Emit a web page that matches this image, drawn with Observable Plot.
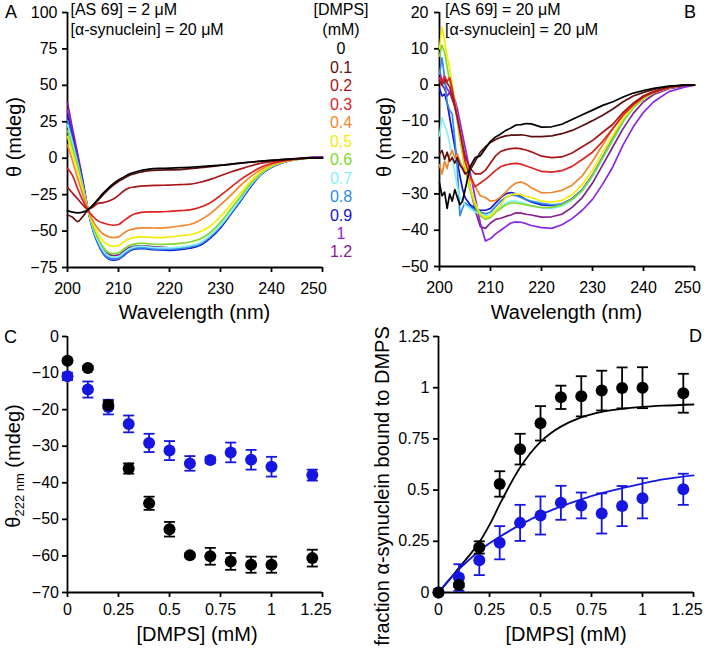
<!DOCTYPE html>
<html>
<head>
<meta charset="utf-8">
<script src="https://cdn.jsdelivr.net/npm/d3@7"></script>
<script src="https://cdn.jsdelivr.net/npm/@observablehq/plot@0.6"></script>
<style>
html, body { margin: 0; padding: 0; background: #fff; }
#chart { position: relative; width: 707px; height: 651px; overflow: hidden; background: #fff;
  font-family: "Liberation Sans", Arial, Helvetica, sans-serif; color: #000; }
#chart svg { position: absolute; left: 0; top: 0; overflow: visible; }
.t { position: absolute; white-space: nowrap; line-height: 1; }
</style>
</head>
<body>
<div id="chart"></div>
<script>
// ---------------- DATA ----------------
const dmpsLabels = ["0","0.1","0.2","0.3","0.4","0.5","0.6","0.7","0.8","0.9","1","1.2"];
const lineColors = ["#000000","#5e1111","#a8161a","#dc2424","#f0872e","#f3ec06","#80d82c","#86f0f8","#2f8ae8","#1414d2","#8c26e2","#84208c"];

// Panel A: [AS 69] = 2 µM
const wavelengthA = [200,201,202,203,204,205,206,207,208,209,210,211,212,213,214,215,216,218,220,222,224,226,228,230,232,234,236,238,240,242,245,248,250];
const thetaA_0   = [-36,-37,-37.5,-37,-35.5,-32,-28,-24,-20.5,-17.5,-15,-13,-11,-9.8,-8.8,-8,-7.5,-7,-6.8,-6.5,-6.2,-5.8,-5.3,-4.8,-4,-3.3,-2.6,-2,-1.5,-1,-0.3,0.2,0.3];
const thetaA_0_1 = [-39,-40.5,-43.5,-40,-35.5,-32.5,-29,-25,-21.5,-18.5,-16,-14,-12,-10.8,-9.8,-9,-8.6,-8.2,-8,-7.8,-7.2,-6.5,-5.8,-5,-4.2,-3.4,-2.7,-2,-1.5,-1,-0.3,0.2,0.3];
const thetaA_0_2 = [-20,-24,-28,-32,-35,-33.5,-31,-30.5,-29.5,-28,-25.5,-22.5,-20.5,-19.8,-19.3,-19,-18.8,-18.6,-18.4,-18.1,-17.8,-16.5,-14.5,-12,-9.5,-7.3,-5.2,-3.4,-2.3,-1.4,-0.4,0.2,0.3];
const thetaA_0_3 = [-7,-12,-21,-29,-35.5,-40,-43,-44.5,-45.5,-46,-45.5,-43,-40.5,-38.5,-37.5,-37,-36.8,-36.8,-36.5,-36,-35.5,-33.7,-30.5,-25.5,-20,-14.5,-10,-6,-3.6,-2,-0.5,0.2,0.3];
const thetaA_0_4 = [9,-2,-14,-25,-35,-43,-48.5,-52,-53.8,-54.5,-54,-51.5,-49.5,-48.5,-48,-47.8,-47.8,-48,-47.5,-46.5,-45.5,-42.5,-38,-32,-25.5,-18.5,-12.5,-7.5,-4.3,-2.4,-0.6,0.2,0.3];
const thetaA_0_5 = [15,3,-9,-22,-35,-45,-52,-57,-59.5,-60.5,-60,-57.5,-55.5,-54.5,-54,-54,-54.2,-54.5,-54,-53.2,-52.5,-50.5,-46.5,-40,-32,-23.5,-15.5,-9,-5,-2.7,-0.7,0.2,0.3];
const thetaA_0_6 = [19,7,-6,-20,-35,-47,-55,-61,-64.5,-65.5,-65,-62.5,-60,-59,-58.5,-58.5,-58.8,-59.2,-59,-58.5,-57.5,-55.5,-51,-44,-35,-26,-17,-10,-5.5,-2.9,-0.8,0.2,0.3];
const thetaA_0_7 = [23,10,-4,-19,-35,-48,-57,-63.5,-67,-68,-67.5,-65,-62.5,-61,-60.5,-60.5,-61,-61.5,-61.5,-61,-60,-58,-53,-46,-37,-27.5,-18,-10.5,-5.8,-3,-0.8,0.2,0.3];
const thetaA_0_8 = [26,12,-2,-18,-35,-49,-58.5,-65,-68.5,-69.5,-69,-66.5,-63.5,-62,-61.5,-61.5,-62,-62.5,-62.5,-62,-61,-59,-54,-47,-38,-28.5,-18.5,-10.8,-6,-3.1,-0.8,0.2,0.3];
const thetaA_0_9 = [29,14,-1,-17,-35,-49.5,-59,-65.5,-69,-70,-69.5,-67,-64,-62.5,-62,-62,-62.5,-63,-63.2,-62.8,-61.8,-59.8,-54.8,-47.8,-38.5,-29,-19,-11,-6.2,-3.2,-0.8,0.2,0.3];
const thetaA_1   = [33,17,1,-16,-35,-49,-58,-64.5,-68,-69,-68.5,-66,-63,-61.5,-61,-61,-61.5,-62,-62.5,-62.2,-61.2,-59.2,-54.3,-47.3,-38.2,-28.8,-19,-11,-6.2,-3.2,-0.7,0.4,0.6];
const thetaA_1_2 = [38,20,3,-15,-35,-48,-57,-63,-66,-66.8,-66.5,-64,-61.5,-60.5,-60.2,-60.2,-60.5,-61,-61.5,-61.5,-60.8,-59,-54,-47,-38,-28.5,-19,-11,-6,-3,-0.5,0.8,1];

// Panel B: [AS 69] = 20 µM
const wavelengthB = [200,200.5,201,201.5,202,202.5,203,203.5,204,204.5,205,206,207,208,209,210,211,212,213,214,215,216,217,218,220,222,224,226,228,230,232,234,236,238,240,242,245,248,250];
const thetaB_0   = [-27,-30.5,-29.5,-34,-30,-32,-28.8,-31,-33,-32,-29,-22.5,-20,-19.5,-17.5,-15.5,-14.3,-13.5,-12.5,-11.8,-11,-10.9,-10.6,-10.7,-11.6,-11.5,-10.8,-9.5,-8.2,-6.9,-5.6,-4.6,-3.3,-2.2,-1.5,-0.9,-0.3,0,0];
const thetaB_0_1 = [-19,-18,-20.5,-18.5,-21,-20,-21.5,-20,-22,-23,-24.5,-23.5,-21,-18.5,-17,-15.8,-15,-14.4,-14,-13.8,-13.8,-13.7,-13.9,-14.2,-14.2,-14,-13.4,-12.5,-11.2,-9.8,-8.3,-6.6,-4.6,-3,-2,-1.2,-0.4,0,0];
const thetaB_0_2 = [1,0,1.5,0.5,-0.5,-3,-6,-9,-12.5,-16,-19.5,-23,-24.5,-24.5,-23.5,-21.5,-19.5,-18.3,-17.8,-17.5,-17.4,-17.6,-17.9,-18.4,-19.6,-20,-19.8,-18.7,-17,-15.3,-13,-10.8,-7.5,-5,-3,-1.8,-0.6,0,0];
const thetaB_0_3 = [2,1,2.5,1,2,-1,-5,-9,-13,-17,-21,-25,-28,-27,-26,-24.8,-23.5,-22.5,-22,-21.7,-21.6,-21.8,-22.3,-22.8,-23.8,-24,-23.6,-22.4,-20.5,-18.5,-15.5,-12,-8.3,-5.5,-3.3,-2,-0.7,0,0];
const thetaB_0_4 = [-22,-24.5,-21,-23,-19.5,-18,-20,-19,-21,-22.5,-24,-26,-28,-30.5,-31,-32,-31.8,-30.8,-29.5,-28,-27,-26.7,-27.3,-28.3,-29.7,-29.6,-29,-27.6,-25,-21,-16.5,-12,-8,-5,-3,-1.7,-0.6,0,0];
const thetaB_0_5 = [10,16,12,8,4.5,0,-4.5,-9,-14,-18,-22,-28,-32.5,-35.5,-36.5,-36,-34.5,-33,-31,-30.2,-30,-30.2,-30.7,-31,-32,-32.3,-31.8,-30.2,-27.5,-23.5,-18.5,-13.8,-9.3,-5.8,-3.4,-2,-0.7,0,0];
const thetaB_0_6 = [8,11,9,5,1,-2,-6,-10,-15,-19,-23,-29,-33.5,-36,-37,-36.5,-35,-34,-33,-32.5,-32.5,-32.7,-33,-33.3,-33.8,-33.7,-33,-31.5,-29,-25,-20,-15,-10,-6.2,-3.7,-2.1,-0.8,0,0];
const thetaB_0_7 = [-14,-9,-11,-13,-16,-20,-24,-28,-31,-32,-33,-34,-35,-35.5,-36,-35.5,-34.5,-33.5,-32.5,-32,-32,-32.3,-32.8,-33.2,-33.8,-34,-33.4,-31.8,-29.2,-25.2,-20.2,-15.2,-10.2,-6.3,-3.7,-2.1,-0.8,0,0];
const thetaB_0_8 = [3,7.5,2,-5,-7,-8,-15,-23,-36,-34,-32.5,-33.5,-34.5,-35,-35.5,-35,-33.5,-32,-31,-30.3,-30.5,-31,-31.6,-32,-32.6,-33,-32.8,-31.5,-29,-25,-20,-15,-10,-6.2,-3.6,-2,-0.8,0,0];
const thetaB_0_9 = [-1,-3,-2.5,-5,-9,-13,-17,-21,-25,-28.5,-31,-33,-34,-34.5,-34.5,-34,-32.5,-31,-30,-29.6,-30,-30.8,-31.6,-32.2,-33,-33.2,-32.8,-31.3,-28.8,-24.8,-19.8,-14.8,-9.8,-6,-3.5,-2,-0.8,0,0];
const thetaB_1   = [4,1,0.5,-1,-2,-2.5,-4,-6.5,-10,-13.5,-17,-24,-31,-38,-43,-42.3,-41,-40,-39,-38,-37.7,-37.8,-38.2,-38.7,-39.3,-39.5,-38.5,-36.8,-34.5,-31.5,-27.3,-22.5,-16.5,-11.5,-7.5,-4.6,-1.8,-0.6,0];
const thetaB_1_2 = [2,0,-1,-3,-2,-4,-6,-9,-13,-17,-21,-28,-34.5,-39,-39.5,-38,-37,-36.7,-36.2,-35.8,-35.2,-35.3,-35.6,-35.8,-36.4,-36.3,-35.6,-33.7,-31,-27,-22,-17,-12,-7.8,-4.6,-2.6,-1,-0.3,0];

// Panels C and D: DMPS titration
const dmpsConc = [0,0.1,0.2,0.3,0.4,0.5,0.6,0.7,0.8,0.9,1.0,1.2];
const theta222_low   = [-6.6,-8.6,-18.7,-36.1,-45.6,-52.7,-59.8,-60.1,-61.5,-62.4,-62.4,-60.6];
const theta222_lowErr  = [0.5,0.5,1,1.4,1.8,2,0.5,2.3,2.3,2.2,2.2,2.3];
const theta222_high  = [-10.9,-14.5,-19.3,-23.9,-29.1,-31.2,-34.7,-33.8,-31.7,-33.7,-35.6,-37.9];
const theta222_highErr = [1,2.2,2,2.3,2.5,2.6,2,0.8,2.7,2.7,2.7,1.5];
const bound_low      = [0,0.037,0.22,0.53,0.70,0.826,0.953,0.958,0.986,0.999,1.0,0.973];
const bound_lowErr   = [0,0.01,0.03,0.062,0.075,0.084,0.057,0.098,0.097,0.1,0.1,0.095];
const bound_high     = [0,0.073,0.158,0.243,0.34,0.376,0.438,0.425,0.386,0.422,0.46,0.504];
const bound_highErr  = [0,0.065,0.073,0.081,0.088,0.093,0.083,0.063,0.098,0.098,0.098,0.076];
const fitConc     = [0,0.05,0.1,0.15,0.2,0.25,0.3,0.35,0.4,0.45,0.5,0.55,0.6,0.7,0.8,0.9,1.0,1.1,1.25];
const fit_low     = [0,0.058,0.12,0.18,0.245,0.33,0.43,0.525,0.61,0.68,0.736,0.778,0.81,0.855,0.882,0.897,0.906,0.912,0.918];
const fit_high    = [0,0.06,0.113,0.16,0.203,0.24,0.272,0.302,0.33,0.356,0.38,0.4,0.42,0.455,0.485,0.51,0.532,0.552,0.572];

// Tick values
const ticksWavelength = [200,210,220,230,240,250];
const ticksThetaA = [-75,-50,-25,0,25,50,75,100];
const ticksThetaB = [-50,-40,-30,-20,-10,0,10,20];
const ticksConc = [0,0.25,0.5,0.75,1,1.25];
const ticksTheta222 = [-70,-60,-50,-40,-30,-20,-10,0];
const ticksBound = [0,0.25,0.5,0.75,1,1.25];

// ---------------- DRAWING ----------------
const W = 707, H = 651;
const FONT = '"Liberation Sans", Arial, Helvetica, sans-serif';
const BLUE = "#1616e0";
const chart = document.getElementById("chart");
const fmt = d => (d < 0 ? "\u2212" : "") + Math.abs(d);
const capSymbol = { draw(ctx, size) { const r = Math.sqrt(size / Math.PI); ctx.moveTo(-r, 0); ctx.lineTo(r, 0); } };

const seriesA = [thetaA_0, thetaA_0_1, thetaA_0_2, thetaA_0_3, thetaA_0_4, thetaA_0_5, thetaA_0_6, thetaA_0_7, thetaA_0_8, thetaA_0_9, thetaA_1, thetaA_1_2];
const seriesB = [thetaB_0, thetaB_0_1, thetaB_0_2, thetaB_0_3, thetaB_0_4, thetaB_0_5, thetaB_0_6, thetaB_0_7, thetaB_0_8, thetaB_0_9, thetaB_1, thetaB_1_2];

// drawn from highest DMPS to lowest so that low-DMPS curves sit on top
function lineMarks(wl, series, curve) {
  return series.map((vals, i) => Plot.line(wl.map((w, j) => ({wl: w, v: vals[j]})),
    {x: "wl", y: "v", stroke: lineColors[i], strokeWidth: 1.7, curve})).reverse();
}
function errMarks(xs, ys, es, color) {
  const rows = xs.map((x, i) => ({x, y: ys[i], e: es[i]}));
  return [
    Plot.ruleX(rows, {x: "x", y1: d => d.y - d.e, y2: d => d.y + d.e, stroke: color, strokeWidth: 1.8}),
    Plot.dot(rows, {x: "x", y: d => d.y + d.e, symbol: capSymbol, r: 5.5, stroke: color, strokeWidth: 1.8, fill: "none"}),
    Plot.dot(rows, {x: "x", y: d => d.y - d.e, symbol: capSymbol, r: 5.5, stroke: color, strokeWidth: 1.8, fill: "none"}),
    Plot.dot(rows, {x: "x", y: "y", r: 6, fill: color, stroke: "none"})
  ];
}

function addPlot(c) {
  const last = c.xTicks[c.xTicks.length - 1];
  const svg = Plot.plot({
    width: W, height: H,
    marginLeft: c.left, marginRight: W - c.right, marginTop: c.top, marginBottom: H - c.bottom,
    x: {domain: c.xDomain, label: null},
    y: {domain: c.yDomain, label: null},
    style: {background: "transparent", fontFamily: FONT, fontSize: "16px", color: "#000", overflow: "visible"},
    marks: [
      Plot.ruleX([c.xDomain[0]], {stroke: "#000", strokeWidth: 1.8}),
      Plot.ruleY([c.yDomain[0]], {stroke: "#000", strokeWidth: 1.8}),
      Plot.axisX(c.xTicks, {tickSize: 5, tickPadding: c.xPad, label: null, strokeWidth: 1.8, fontSize: 16,
        tickFormat: d => d === last ? "" : fmt(d)}),
      Plot.text([last], {x: d => d, text: d => fmt(d), frameAnchor: "bottom", lineAnchor: "top",
        dy: 5 + c.xPad, dx: c.lastDx, fontSize: 16, fill: "#000"}),
      Plot.axisY(c.yTicks, {tickSize: 5, tickPadding: c.yPad, label: null, strokeWidth: 1.8, fontSize: 16, tickFormat: fmt}),
      ...c.marks
    ]
  });
  svg.style.position = "absolute";
  svg.style.left = "0px";
  svg.style.top = "0px";
  chart.appendChild(svg);
}

function addText(html, x, baseline, size, anchor = "start", color = "#000") {
  const d = document.createElement("div");
  d.className = "t";
  d.innerHTML = html;
  d.style.fontSize = size + "px";
  d.style.color = color;
  d.style.left = x + "px";
  d.style.top = (baseline - 0.8465 * size) + "px";
  if (anchor === "middle") d.style.transform = "translateX(-50%)";
  if (anchor === "end") d.style.transform = "translateX(-100%)";
  chart.appendChild(d);
}
function addVText(html, cx, cy, size) {
  const d = document.createElement("div");
  d.className = "t";
  d.innerHTML = html;
  d.style.fontSize = size + "px";
  d.style.height = size + "px";
  d.style.left = cx + "px";
  d.style.top = cy + "px";
  d.style.transform = "translate(-50%,-50%) rotate(-90deg)";
  chart.appendChild(d);
}

// Panel A
addPlot({left: 67, right: 322, top: 12, bottom: 267, xDomain: [200, 250], yDomain: [-75, 100],
  xTicks: ticksWavelength, yTicks: ticksThetaA, xPad: 10, yPad: 5, lastDx: -9,
  marks: lineMarks(wavelengthA, seriesA, "monotone-x")});
// Panel B
addPlot({left: 439, right: 694, top: 12, bottom: 266, xDomain: [200, 250], yDomain: [-50, 20],
  xTicks: ticksWavelength, yTicks: ticksThetaB, xPad: 10, yPad: 6, lastDx: -7,
  marks: lineMarks(wavelengthB, seriesB, "linear")});
// Panel C
addPlot({left: 67, right: 322, top: 336, bottom: 592, xDomain: [0, 1.25], yDomain: [-70, 0],
  xTicks: ticksConc, yTicks: ticksTheta222, xPad: 6.5, yPad: 3.5, lastDx: -6.5,
  marks: [...errMarks(dmpsConc, theta222_high, theta222_highErr, BLUE),
          ...errMarks(dmpsConc, theta222_low, theta222_lowErr, "#000")]});
// Panel D
addPlot({left: 438, right: 693, top: 336, bottom: 592, xDomain: [0, 1.25], yDomain: [0, 1.25],
  xTicks: ticksConc, yTicks: ticksBound, xPad: 6.5, yPad: 4, lastDx: -6.5,
  marks: [
    Plot.line(fitConc.map((x, i) => ({x, y: fit_low[i]})), {x: "x", y: "y", stroke: "#000", strokeWidth: 1.8, curve: "monotone-x"}),
    Plot.line(fitConc.map((x, i) => ({x, y: fit_high[i]})), {x: "x", y: "y", stroke: BLUE, strokeWidth: 1.8, curve: "monotone-x"}),
    ...errMarks(dmpsConc, bound_high, bound_highErr, BLUE),
    ...errMarks(dmpsConc, bound_low, bound_lowErr, "#000")]});

// Texts
addText("A", 5, 18.5, 18);
addText("B", 684, 18.5, 18);
addText("C", 4, 343, 18);
addText("D", 689, 342.5, 18);
addText("[AS 69] = 2 \u03BCM", 70.5, 16, 16);
addText("[\u03B1-synuclein] = 20 \u03BCM", 70.5, 36, 16);
addText("[AS 69] = 20 \u03BCM", 445, 16, 16);
addText("[\u03B1-synuclein] = 20 \u03BCM", 445, 36, 16);
addText("[DMPS]", 341, 16, 16, "middle");
addText("(mM)", 341, 36, 16, "middle");
dmpsLabels.forEach((lab, i) => addText(lab, 341, 55 + 18.45 * i, 16, "middle", lineColors[i]));

addText("Wavelength (nm)", 194.5, 319, 20, "middle");
addText("Wavelength (nm)", 566.5, 319, 20, "middle");
addText("[DMPS] (mM)", 197, 641, 20, "middle");
addText("[DMPS] (mM)", 566, 641, 20, "middle");
addVText("\u03B8 (mdeg)", 13.5, 137, 20);
addVText("\u03B8 (mdeg)", 384, 137, 20);
addVText('\u03B8<span style="font-size:13px;position:relative;top:4px">222 nm</span> (mdeg)', 13, 466, 20);
addVText("fraction \u03B1-synuclein bound to DMPS", 382, 486, 20);
</script>
</body>
</html>
